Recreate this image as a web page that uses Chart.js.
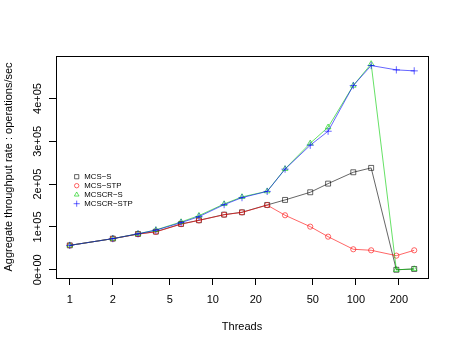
<!DOCTYPE html>
<html>
<head>
<meta charset="utf-8">
<script src="https://cdn.jsdelivr.net/npm/chart.js@4/dist/chart.umd.min.js"></script>
<style>
  html,body{margin:0;padding:0;background:#fff;}
  canvas{display:block;}
</style>
</head>
<body>
<canvas id="c" width="458" height="349"></canvas>
<script>
const threads = [1,2,3,4,6,8,12,16,24,32,48,64,96,128,192,256];
const mcsS     = [57000,72700,83600,89000,107000,115600,128800,134300,151400,163100,181000,201200,227700,237900,0,1900];
const mcsSTP   = [57000,72700,83300,88500,106500,115300,128500,134000,151000,127300,100700,77300,47900,45500,33000,45500];
const mcscrS   = [57000,72700,84000,93000,111700,126400,153700,170100,183400,235500,295500,332900,430200,480800,0,1900];
const mcscrSTP = [57000,72700,84000,92500,110000,124100,152100,168500,183000,235000,290800,323500,430200,476900,466800,464500];

const labels = ['MCS\u2212S','MCS\u2212STP','MCSCR\u2212S','MCSCR\u2212STP'];
const series = [mcsS,mcsSTP,mcscrS,mcscrSTP];
const colors = ['rgba(0,0,0,0.6)','rgba(255,0,0,0.6)','rgba(0,205,0,0.6)','rgba(0,0,255,0.6)'];
const markers = ['rect','circle','triangle','cross'];
const markerSize = [3.5,2.6,3.2,3.6];

const xTicks = [1,2,5,10,20,50,100,200];
const yTicks = [0,100000,200000,300000,400000];

function sci(v){
  if(v===0) return '0e+00';
  const e=Math.floor(Math.log10(Math.abs(v)));
  const m=+(v/Math.pow(10,e)).toFixed(6);
  return m+'e'+(e<0?'-':'+')+String(Math.abs(e)).padStart(2,'0');
}

const FONT = 'Liberation Sans, Arial, Helvetica, sans-serif';

const datasets = series.map((s,i)=>({
  label: labels[i],
  data: threads.map((t,j)=>({x:t,y:s[j]})),
  borderColor: colors[i],
  borderWidth: 1,
  backgroundColor: 'transparent',
  pointStyle: markers[i],
  pointRadius: markerSize[i],
  pointBorderColor: colors[i],
  pointBackgroundColor: 'transparent',
  pointBorderWidth: 1,
  tension: 0,
  order: series.length - i
}));

const frame = {
  id:'frame',
  beforeDraw(chart){
    const ctx=chart.ctx;
    ctx.save();
    ctx.fillStyle='#fff';
    ctx.fillRect(0,0,chart.width,chart.height);
    ctx.restore();
  },
  afterDraw(chart){
    const {ctx,chartArea:a}=chart;
    ctx.save();
    ctx.strokeStyle='#000';
    ctx.lineWidth=1;
    ctx.strokeRect(a.left+0.5,a.top+0.5,a.right-a.left,a.bottom-a.top);
    // legend, R style: symbol then text
    ctx.font='7.8px '+FONT;
    ctx.textBaseline='middle';
    ctx.textAlign='left';
    chart.data.datasets.forEach((d,i)=>{
      const y=176.7+i*9;
      ctx.strokeStyle=d.borderColor;
      ctx.fillStyle='transparent';
      ctx.lineWidth=1;
      Chart.helpers.drawPoint(ctx,{pointStyle:d.pointStyle,radius:d.pointRadius*0.85,borderWidth:1},76.7,y);
      ctx.fillStyle='#000';
      ctx.fillText(d.label,84.3,y);
    });
    ctx.restore();
  }
};

new Chart(document.getElementById('c'),{
  type:'line',
  data:{datasets},
  options:{
    responsive:false,
    animation:false,
    devicePixelRatio:1,
    layout:{padding:{top:56,right:30,left:0,bottom:0}},
    plugins:{legend:{display:false},tooltip:{enabled:false}},
    scales:{
      x:{
        type:'logarithmic',
        min:0.8011,
        max:319.6,
        afterBuildTicks:s=>{s.ticks=xTicks.map(v=>({value:v}));},
        afterFit:s=>{s.height=71;},
        border:{display:false},
        grid:{drawOnChartArea:false,drawTicks:true,tickLength:7,color:'#000'},
        ticks:{autoSkip:false,maxRotation:0,minRotation:0,padding:8,color:'#000',
          font:{family:FONT,size:11},callback:v=>String(v)},
        title:{display:true,text:'Threads',color:'#000',font:{family:FONT,size:11},padding:{top:0,bottom:15}}
      },
      y:{
        type:'linear',
        min:-19200,
        max:499200,
        afterBuildTicks:s=>{s.ticks=yTicks.map(v=>({value:v}));},
        afterFit:s=>{s.width=56;},
        border:{display:false},
        grid:{drawOnChartArea:false,drawTicks:true,tickLength:7,color:'#000'},
        ticks:{autoSkip:false,minRotation:90,maxRotation:90,crossAlign:'center',padding:-4.5,color:'#000',
          font:{family:FONT,size:11},callback:v=>sci(v)},
        title:{display:true,text:'Aggregate throughput rate : operations/sec',color:'#000',
          font:{family:FONT,size:11},padding:{top:2.7,bottom:0}}
      }
    }
  },
  plugins:[frame]
});
</script>
</body>
</html>
